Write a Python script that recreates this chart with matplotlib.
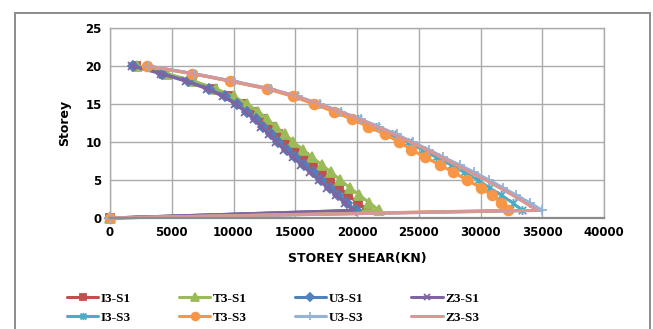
import matplotlib
matplotlib.use("Agg")
import matplotlib.pyplot as plt
from matplotlib.path import Path
from matplotlib.patches import Rectangle

# Storey numbers (0 = base) and storey shear values in kN
storeys = list(range(0, 21))

i3_s1 = [0, 20800, 20050, 19300, 18550, 17850, 17150, 16400, 15700, 14950, 14250,
         13600, 12950, 12300, 11550, 10700, 9700, 8300, 6600, 4400, 2100]
t3_s1 = [0, 21800, 21000, 20200, 19400, 18650, 17900, 17150, 16350, 15600, 14850,
         14150, 13450, 12750, 12000, 11100, 10000, 8600, 6800, 4600, 2200]
u3_s1 = [0, 19900, 19200, 18500, 17800, 17100, 16400, 15700, 15000, 14300, 13600,
         13000, 12400, 11800, 11100, 10300, 9300, 8000, 6300, 4200, 1900]
z3_s1 = [0, 19700, 19000, 18300, 17600, 16900, 16200, 15500, 14800, 14100, 13450,
         12850, 12250, 11650, 10950, 10150, 9150, 7850, 6150, 4100, 1800]
i3_s3 = [0, 33400, 32600, 31700, 30700, 29800, 28700, 27600, 26400, 25300, 24100,
         22800, 21500, 20100, 18500, 16800, 15000, 12800, 9800, 6700, 3000]
t3_s3 = [0, 32200, 31700, 30900, 30000, 28900, 27800, 26700, 25500, 24400, 23400,
         22300, 20900, 19600, 18100, 16500, 14800, 12700, 9700, 6600, 3000]
u3_s3 = [0, 35000, 34000, 32900, 31800, 30700, 29500, 28300, 27000, 25800, 24500,
         23200, 21800, 20300, 18700, 17000, 15200, 13000, 10000, 6800, 3100]
z3_s3 = [0, 34600, 33600, 32600, 31500, 30400, 29200, 28000, 26800, 25600, 24300,
         23000, 21600, 20200, 18600, 16900, 15100, 12900, 9900, 6700, 3000]

x_ticks = [0, 5000, 10000, 15000, 20000, 25000, 30000, 35000, 40000]
y_ticks = [0, 5, 10, 15, 20, 25]

# Asterisk-style marker: an x with a vertical bar through it
star_path = Path(
    [(-1, -1), (1, 1), (-1, 1), (1, -1), (0, -1.2), (0, 1.2)],
    [Path.MOVETO, Path.LINETO, Path.MOVETO, Path.LINETO, Path.MOVETO, Path.LINETO],
)

series = [
    ("I3-S1", i3_s1, "#C0504D", "s", 5.5, True),
    ("T3-S1", t3_s1, "#9BBB59", "^", 6.5, True),
    ("U3-S1", u3_s1, "#4F81BD", "D", 5, True),
    ("Z3-S1", z3_s1, "#8064A2", "x", 6, False),
    ("I3-S3", i3_s3, "#4BACC6", star_path, 6.5, False),
    ("T3-S3", t3_s3, "#F79646", "o", 7, True),
    ("U3-S3", u3_s3, "#95B3D7", "+", 7.5, False),
    ("Z3-S3", z3_s3, "#D99694", None, 0, True),
]

fig = plt.figure(figsize=(6.53, 3.29), dpi=100)
ax = fig.add_axes([110 / 653, 1 - 218 / 329, 494 / 653, 190 / 329])

handles = {}
for name, vals, color, marker, ms, filled in series:
    kw = dict(color=color, lw=2.2, label=name, solid_capstyle="round")
    if marker is not None:
        kw.update(marker=marker, markersize=ms, markeredgewidth=1.3)
        if filled:
            kw.update(markerfacecolor=color, markeredgecolor=color)
        else:
            kw.update(markeredgecolor=color)
    (h,) = ax.plot(vals, storeys, clip_on=False, **kw)
    handles[name] = h

ax.set_xlim(0, 40000)
ax.set_ylim(0, 25)
ax.set_xticks(x_ticks)
ax.set_yticks(y_ticks)
ax.set_xticklabels([str(v) for v in x_ticks])
ax.set_yticklabels([str(v) for v in y_ticks])
ax.tick_params(length=0, labelsize=8.5, pad=6)
for lab in ax.get_xticklabels() + ax.get_yticklabels():
    lab.set_fontweight("bold")

ax.grid(True, color="#ababab", lw=1.0)
ax.set_axisbelow(True)
for side in ("top", "right", "left"):
    ax.spines[side].set_color("#ababab")
    ax.spines[side].set_linewidth(1.0)
ax.spines["bottom"].set_color("#8c8c8c")
ax.spines["bottom"].set_linewidth(1.6)

ax.set_xlabel("STOREY SHEAR(KN)", fontsize=9, fontweight="bold", labelpad=9)
ax.set_ylabel("Storey", fontsize=9, fontweight="bold", labelpad=10)

# Legend: two rows of four, filled column by column
order = ["I3-S1", "I3-S3", "T3-S1", "T3-S3", "U3-S1", "U3-S3", "Z3-S1", "Z3-S3"]
fig.legend(
    [handles[n] for n in order], order,
    loc="center", bbox_to_anchor=(273 / 653, 1 - 308 / 329),
    ncol=4, frameon=False, handlelength=2.4, handletextpad=0.2,
    columnspacing=3.6, labelspacing=0.5, markerscale=0.8,
    prop={"family": "Liberation Serif", "weight": "bold", "size": 9.5},
)

# Outer chart border
fig.patches.append(Rectangle(
    (15 / 653, -0.02), 635 / 653, 1 - 12.5 / 329 + 0.02,
    transform=fig.transFigure, fill=False, edgecolor="#8c8c8c", lw=1.4,
))

fig.savefig("out.png", dpi=100)
